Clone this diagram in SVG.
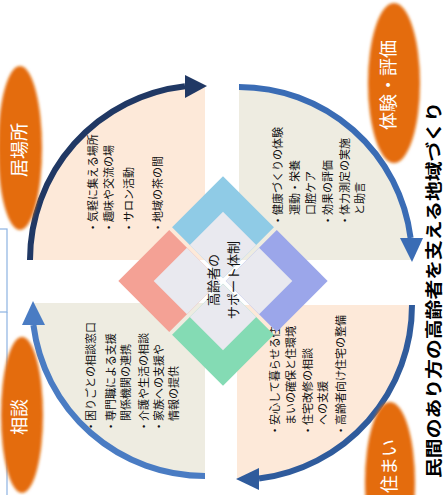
<svg xmlns="http://www.w3.org/2000/svg" width="445" height="495" viewBox="0 0 445 495">
<style>
.jp{font-family:"Noto Sans CJK JP","Noto Sans",sans-serif;dominant-baseline:central}
.body{font-size:11px;fill:#111}
.tag{font-size:18px;fill:#fff;text-anchor:middle}
.peach{fill:#fde9d9}
.beige{fill:#eeece1}
.arc{fill:none;stroke-width:6}
.inner{fill:#e9e9ef}
</style>
<defs>
<filter id="soft" x="-30%" y="-30%" width="160%" height="160%"><feGaussianBlur stdDeviation="1.6"/></filter>
</defs>
<rect width="445" height="495" fill="#fff"/>
<g id="side-box" fill="none" stroke="#8db3e2" stroke-width="1.2">
<rect x="-10" y="229" width="17" height="83"/>
<path d="M7,312 V500"/>
</g>
<g id="q-ibasho">
<path class="peach" d="M205,260 H30 A175,175 0 0 1 205,85 Z"/>
<text class="jp body" transform="translate(92,233) rotate(-90)"><tspan x="0" y="0">・気軽に集える場所</tspan><tspan x="0" y="16">・趣味や交流の場</tspan><tspan x="0" y="36">・サロン活動</tspan><tspan x="0" y="65">・地域の茶の間</tspan></text>
</g>
<g id="q-taiken">
<path class="beige" d="M239,260 V87 A173,173 0 0 1 412,260 Z"/>
<text class="jp body" transform="translate(277,226) rotate(-90)"><tspan x="0" y="0">・健康づくりの体験</tspan><tspan x="0" y="17">　運動・栄養</tspan><tspan x="0" y="33">　口腔ケア</tspan><tspan x="0" y="50">・効果の評価</tspan><tspan x="0" y="67">・体力測定の実施</tspan><tspan x="0" y="82">　と助言</tspan></text>
</g>
<g id="q-sodan">
<path class="beige" d="M205,303 V476 A173,173 0 0 1 32,303 Z"/>
<text class="jp body" transform="translate(90,432) rotate(-90)"><tspan x="0" y="0">・困りごとの相談窓口</tspan><tspan x="0" y="20">・専門職による支援</tspan><tspan x="0" y="35">　関係機関の連携</tspan><tspan x="0" y="53">・介護や生活の相談</tspan><tspan x="0" y="68">・家族への支援や</tspan><tspan x="0" y="83">　情報の提供</tspan></text>
</g>
<g id="q-sumai">
<path class="peach" d="M237,305 H412 A175,175 0 0 1 237,480 Z"/>
<text class="jp body" transform="translate(274,436) rotate(-90)"><tspan x="0" y="0">・安心して暮らせる住</tspan><tspan x="0" y="16">　まいの確保と住環境</tspan><tspan x="0" y="33">・住宅改修の相談</tspan><tspan x="0" y="48">　への支援</tspan><tspan x="0" y="66">・高齢者向け住宅の整備</tspan></text>
</g>
<g id="connectors">
<path class="arc" stroke="#203864" d="M30,260 A175,175 0 0 1 185,86.2"/>
<polygon fill="#203864" points="207,86 185,75 185,98"/>
<path class="arc" stroke="#3a6cb5" d="M239,87 A173,173 0 0 1 410.6,238"/>
<polygon fill="#3a6cb5" points="412,262 400,238 423,238"/>
<path class="arc" stroke="#2f5b9c" d="M412,305 A175,175 0 0 1 259,478.6"/>
<polygon fill="#2f5b9c" points="236,479 259,468 259,490"/>
<path class="arc" stroke="#4a7cc3" d="M205,476 A173,173 0 0 1 33.4,325"/>
<polygon fill="#4a7cc3" points="33,301 22,325 45,325"/>
</g>
<g id="center-diamond" transform="translate(223,281) rotate(45)">
<rect x="-74" y="-74" width="72" height="72" fill="#8fcbe6"/>
<rect class="inner" x="-49" y="-49" width="47" height="47"/>
<rect x="2" y="-74" width="72" height="72" fill="#9ba6ea"/>
<rect class="inner" x="2" y="-49" width="47" height="47"/>
<rect x="2" y="2" width="72" height="72" fill="#84dbb4"/>
<rect class="inner" x="2" y="2" width="47" height="47"/>
<rect x="-74" y="2" width="72" height="72" fill="#f4a195"/>
<rect class="inner" x="-49" y="2" width="47" height="47"/>
</g>
<g id="center-label">
<text class="jp" font-size="13" fill="#111" text-anchor="middle" transform="translate(212,280) rotate(-90)"><tspan x="0" y="0">高齢者の</tspan><tspan x="0" y="20">サポート体制</tspan></text>
</g>
<g id="tag-ibasho">
<ellipse cx="20" cy="148" rx="22" ry="82" fill="#e46c0a" filter="url(#soft)"/>
<text class="jp tag" transform="translate(18,150) rotate(-90)">居場所</text>
</g>
<g id="tag-taiken">
<ellipse cx="394" cy="83" rx="26" ry="80" fill="#e46c0a" filter="url(#soft)"/>
<text class="jp tag" font-size="19" transform="translate(387,85) rotate(-90)">体験・評価</text>
</g>
<g id="tag-sodan">
<ellipse cx="22" cy="415" rx="21" ry="78" fill="#e46c0a" filter="url(#soft)"/>
<text class="jp tag" font-size="19" transform="translate(18,417) rotate(-90)">相談</text>
</g>
<g id="tag-sumai">
<ellipse cx="390" cy="482" rx="25" ry="80" fill="#e46c0a" filter="url(#soft)"/>
<text class="jp tag" font-size="17" transform="translate(388,466) rotate(-90)">住まい</text>
</g>
<g id="title">
<text class="jp" font-size="17" font-weight="bold" fill="#000" textLength="376" lengthAdjust="spacingAndGlyphs" transform="translate(432,478) rotate(-90)">民間のあり方の高齢者を支える地域づくり</text>
</g>
</svg>
